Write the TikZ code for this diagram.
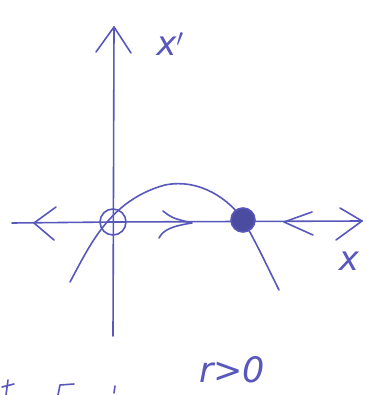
\documentclass[tikz,border=0pt]{standalone}
\usepackage{fontspec}
\setmainfont{DejaVu Sans}
\definecolor{pen}{RGB}{88,88,188}
\begin{document}
\begin{tikzpicture}[x=1pt,y=-1pt,
  stroke/.style={draw=pen,line width=1.6pt,line cap=round,line join=round},
  hand/.style={text=pen,font=\fontsize{34}{34}\selectfont\itshape,inner sep=0pt}]
\useasboundingbox[fill=white] (0,0) rectangle (367,395);
% axes
\coordinate (O) at (113,222);
\coordinate (ytop) at (114,27);
\coordinate (ybot) at (113,336);
\coordinate (xl) at (12,223);
\coordinate (xr) at (362,221);
\draw[stroke] (ybot) -- (ytop);
\draw[stroke] (96,52) -- (ytop) -- (131,53);
\draw[stroke] (xl) -- (O) -- (xr);
% arrows on x axis
\draw[stroke] (56,207) -- (34,223) -- (54,240);
\draw[stroke] (163,211) .. controls (172,218) .. (192,223) .. controls (172,226) and (163,230) .. (159,238);
\draw[stroke] (312,212) -- (284,222) -- (313,235);
\draw[stroke] (340,208) -- (362,221) -- (336,240);
% curve x' = r x - x^2
\draw[stroke] (70,282) .. controls (90,245) and (110,200) .. (165,185)
  .. controls (200,178) and (230,200) .. (243,220) .. controls (255,240) and (268,268) .. (279,290);
% fixed points
\node[circle,draw=pen,line width=1.6pt,minimum size=26pt,inner sep=0pt] (unst) at (O) {};
\node[circle,draw=pen,fill=pen!85!black,line width=1.6pt,minimum size=24pt,inner sep=0pt] (st) at (243,220) {};
% labels
\node[hand] (lxp) at (170,44) {x$'$};
\node[hand] (lx) at (349,261) {x};
\node[hand,font=\fontsize{35}{35}\selectfont\itshape] (lr) at (232,370) {r>0};
% cut-off marks at bottom
\draw[stroke] (2,387) -- (14,384);
\draw[stroke] (8,380) -- (6,395);
\draw[stroke] (58,395) -- (60,385) -- (74,384);
\draw[stroke] (115,386) -- (114,393);
\end{tikzpicture}
\end{document}
